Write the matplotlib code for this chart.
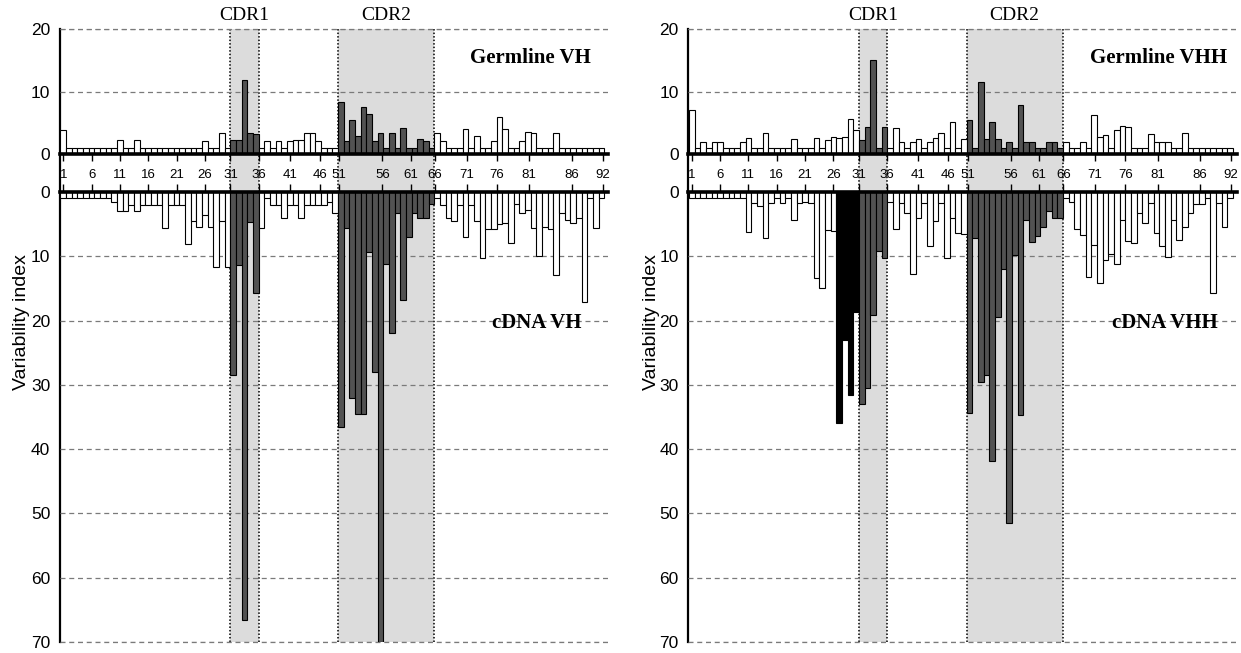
import matplotlib
matplotlib.use('Agg')
import matplotlib.pyplot as plt
import numpy as np

plt.rcParams['font.family'] = ['Liberation Sans', 'DejaVu Sans']

# ---------------- data (96 aligned positions, Kabat 1..92 with insertions) ----
tick_labels = ['1', '6', '11', '16', '21', '26', '31', '36', '41', '46',
               '51', '56', '61', '66', '71', '76', '81', '86', '92']

germline_vh = [3.8, 1, 1, 1, 1, 1, 1, 1, 1, 1,
               2.3, 1, 1, 2.3, 1, 1, 1, 1, 1, 1,
               1, 1, 1, 1, 1, 2.1, 1, 1, 3.4, 1,
               2.2, 2.2, 11.9, 3.4, 3.2, 1, 2.1, 1, 2.1, 1,
               2.1, 2.3, 2.2, 3.3, 3.3, 2.1, 1, 1, 1, 8.4,
               2.1, 5.5, 2.9, 7.5, 6.4, 2.1, 3.4, 1, 3.4, 1,
               4.1, 1, 1, 2.4, 2.1, 1, 3.4, 2.1, 1, 1,
               1, 4.0, 1, 2.9, 1, 1, 2.1, 6.0, 4.0, 1,
               1, 2.1, 3.6, 3.4, 1, 1, 1, 3.4, 1, 1,
               1, 1, 1, 1, 1, 1]

cdna_vh = [1, 1, 1, 1, 1, 1, 1, 1, 1, 1.5,
           3, 3, 2, 3, 2, 2, 2, 2, 5.6, 2,
           2, 2, 8.1, 4.5, 5.5, 3.5, 5.5, 11.6, 4.5, 11.6,
           28.5, 11.4, 66.5, 4.6, 15.7, 5.6, 1, 2, 2, 4.1,
           2, 2, 4.1, 2, 2, 2, 2, 1.5, 3.3, 36.5,
           5.6, 32, 34.5, 34.5, 9.4, 28, 70, 11.2, 22, 3.2,
           16.8, 7.0, 3.3, 4.1, 4.1, 1.9, 1, 2, 4.1, 4.5,
           2, 7.0, 2, 4.5, 10.3, 5.8, 5.8, 4.9, 4.8, 8.0,
           1.9, 3.3, 2.8, 5.6, 9.9, 5.5, 5.8, 12.9, 3.2, 4.4,
           4.8, 4.1, 17.1, 1, 5.6, 1]

germline_vhh = [7.0, 1, 2, 1, 2, 2, 1, 1, 1, 2,
                2.5, 1, 1, 3.4, 1, 1, 1, 1, 2.35, 1,
                1, 1, 2.5, 1, 2.3, 2.8, 2.5, 2.8, 5.6, 3.9,
                2.2, 4.4, 15.0, 1, 4.4, 1, 4.1, 2, 1, 2,
                2.4, 1, 2, 2.5, 3.3, 1, 5.2, 1, 2.4, 5.5,
                1, 11.6, 2.4, 5.2, 2.4, 1, 2, 1, 7.9, 2,
                2, 1, 1, 2, 2, 1, 2, 1, 1, 2,
                1, 6.3, 2.7, 3.0, 1, 3.9, 4.5, 4.4, 1, 1,
                1, 3.2, 2, 2, 2, 1, 1, 3.3, 1, 1,
                1, 1, 1, 1, 1, 1]

cdna_vhh = [1, 1, 1, 1, 1, 1, 1, 1, 1, 1,
            6.2, 1.7, 2.1, 7.2, 1.7, 1, 1.7, 1, 4.4, 1.7,
            1.5, 1.7, 13.4, 15, 5.9, 6, 36, 23, 31.5, 18.6,
            32.9, 30.5, 19.1, 9.1, 10.3, 1.5, 5.7, 1.7, 3.2, 12.8,
            4.0, 1.7, 8.4, 4.5, 1.7, 10.2, 4.0, 6.4, 6.5, 34.4,
            7.2, 29.5, 28.5, 41.9, 19.5, 11.9, 51.5, 9.8, 34.7, 4.4,
            7.7, 6.9, 5.4, 2.9, 4.1, 4.1, 1, 1.5, 5.7, 6.7,
            13.2, 8.2, 14.2, 10.6, 9.6, 11.2, 4.4, 7.6, 7.9, 3.3,
            4.8, 1.7, 6.4, 8.4, 10.1, 4.3, 7.5, 5.4, 3.2, 1.9,
            1.9, 1, 15.7, 1.7, 5.4, 1]

cdr_names = ['CDR1', 'CDR2']

# ---------------- layout ---------------------------------------------------
W, H = 1241, 653
fig = plt.figure(figsize=(W / 100, H / 100), dpi=100)

PITCH = 5.667
TICK_POS = [0, 5, 10, 15, 20, 25, 29.5, 34.5, 40, 45.3, 48.7, 56.3, 61.3,
            65.6, 71.2, 76.5, 82.2, 89.7, 95.2]
CDR_SPANS = [(29.5, 34.5), (48.5, 65.5)]
CDR_IDX = list(range(30, 35)) + list(range(49, 66))
XL = (-0.6, 96.2)
Y_TOP0, Y_TOP20 = 154, 29.3
Y_BOT0, Y_BOT70 = 192, 642

CDR_COLOR = '#525252'
SHADE = '#dcdcdc'
GRID = dict(color='#7a7a7a', linestyle=(0, (4, 3)), linewidth=0.9)


def rect(l, t, r, b):
    return [l / W, 1 - b / H, (r - l) / W, (b - t) / H]


def panel(x0, germ, cdna, black_idx, germ_title, cdna_title, ylab_x):
    left = x0 + XL[0] * PITCH
    right = x0 + XL[1] * PITCH
    idx = np.arange(len(germ))

    # background: CDR shading, boundaries, y spine
    bg = fig.add_axes(rect(left, Y_TOP20, right, Y_BOT70), zorder=0)
    bg.set_xlim(XL)
    bg.set_ylim(0, 1)
    for s in ['top', 'right', 'bottom']:
        bg.spines[s].set_visible(False)
    bg.spines['left'].set_linewidth(1.6)
    bg.set_xticks([])
    bg.set_yticks([])
    for (a, b), name in zip(CDR_SPANS, cdr_names):
        bg.axvspan(a, b, color=SHADE, lw=0)
        for xx in (a, b):
            bg.axvline(xx, color='black', linestyle=(0, (1, 1.3)), lw=1.1)
        cx = x0 + (a + b) / 2 * PITCH
        fig.text(cx / W, 1 - 15 / H, name, ha='center', va='center',
                 fontsize=14, family='Liberation Serif')

    # germline (top)
    top = fig.add_axes(rect(left, Y_TOP20, right, Y_TOP0), zorder=1)
    top.patch.set_visible(False)
    top.set_xlim(XL)
    top.set_ylim(0, 20)
    gcol = [CDR_COLOR if i in CDR_IDX else 'white' for i in idx]
    top.bar(idx, germ, width=1, color=gcol, edgecolor='black', linewidth=0.8,
            zorder=3)
    top.set_axisbelow(True)
    top.set_yticks([0, 10, 20])
    top.yaxis.grid(True, **GRID)
    top.axhline(20, clip_on=False, **GRID)
    top.axhline(0, color='black', lw=2.6, zorder=4, clip_on=False)
    for s in top.spines.values():
        s.set_visible(False)
    top.set_xticks(TICK_POS)
    top.set_xticklabels(tick_labels)
    top.tick_params(axis='x', direction='out', length=5, width=1, pad=6,
                    labelsize=9.5)
    top.tick_params(axis='y', length=0, pad=7, labelsize=12.5)

    # cDNA (bottom, inverted)
    bot = fig.add_axes(rect(left, Y_BOT0, right, Y_BOT70), zorder=1)
    bot.patch.set_visible(False)
    bot.set_xlim(XL)
    bot.set_ylim(70, 0)
    ccol = []
    for i in idx:
        if i in black_idx:
            ccol.append('black')
        elif i in CDR_IDX:
            ccol.append(CDR_COLOR)
        else:
            ccol.append('white')
    bot.bar(idx, cdna, width=1, color=ccol, edgecolor='black', linewidth=0.8,
            zorder=3)
    bot.set_axisbelow(True)
    bot.set_yticks(np.arange(0, 71, 10))
    bot.yaxis.grid(True, **GRID)
    bot.axhline(70, clip_on=False, zorder=0.5, **GRID)
    bot.axhline(0, color='black', lw=2.6, zorder=4, clip_on=False)
    for s in bot.spines.values():
        s.set_visible(False)
    bot.xaxis.tick_top()
    bot.set_xticks(TICK_POS)
    bot.tick_params(axis='x', direction='out', length=6, width=1,
                    labeltop=False)
    bot.tick_params(axis='y', length=0, pad=7, labelsize=12.5)

    # titles
    fig.text((right - 78) / W, 1 - 58 / H, germ_title, ha='center',
             va='center', fontsize=15, fontweight='bold',
             family='Liberation Serif')
    fig.text((right - 72) / W, 1 - 323 / H, cdna_title, ha='center',
             va='center', fontsize=15, fontweight='bold',
             family='Liberation Serif')
    fig.text(ylab_x / W, 1 - 322 / H, 'Variability index', rotation=90,
             ha='center', va='center', fontsize=14)


panel(63.3, germline_vh, cdna_vh, [], 'Germline VH', 'cDNA VH', 22)
panel(691.7, germline_vhh, cdna_vhh, [26, 27, 28, 29], 'Germline VHH',
      'cDNA VHH', 651)

fig.savefig('out.png', dpi=100)
